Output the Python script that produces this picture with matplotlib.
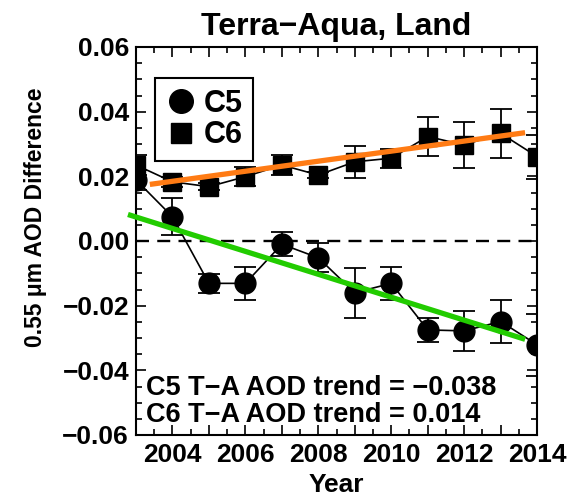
import numpy as np
import matplotlib
matplotlib.use("Agg")
import matplotlib.pyplot as plt
from matplotlib.lines import Line2D
from matplotlib.ticker import MultipleLocator, FuncFormatter

plt.rcParams['font.family'] = ['Liberation Sans', 'DejaVu Sans']
plt.rcParams['font.weight'] = 'bold'

# data
years = np.arange(2003, 2015)
c5 = [0.0189, 0.0075, -0.0131, -0.0131, -0.0010, -0.0052,
      -0.0160, -0.0131, -0.0275, -0.0278, -0.0249, -0.0321]
c5_err = [0.003, 0.0057, 0.003, 0.005, 0.0037, 0.0045,
          0.0078, 0.0052, 0.0036, 0.0062, 0.0067, 0.0095]
c6 = [0.0235, 0.0183, 0.0168, 0.0199, 0.0235, 0.0204,
      0.0245, 0.0256, 0.0323, 0.0297, 0.0333, 0.0261]
c6_err = [0.003, 0.0015, 0.001, 0.003, 0.003, 0.001,
          0.005, 0.003, 0.006, 0.007, 0.0075, 0.0068]

# fitted trend lines (end points)
trend_c5_x = [2002.78, 2013.67]
trend_c5_y = [0.0082, -0.0304]
trend_c6_x = [2003.38, 2013.67]
trend_c6_y = [0.0175, 0.0335]

fig = plt.figure(figsize=(5.69, 5.0), dpi=100)
ax = fig.add_axes([0.239, 0.13, 0.705, 0.776])

ax.axhline(0, color='black', lw=1.7, ls=(0, (5.5, 3.5)))

ax.errorbar(years, c5, yerr=c5_err, fmt='-o', color='black', ms=15,
            lw=1.2, elinewidth=1.3, capsize=8, capthick=1.3)
ax.errorbar(years, c6, yerr=c6_err, fmt='-s', color='black', ms=13,
            lw=1.2, elinewidth=1.3, capsize=8, capthick=1.3)

ax.plot(trend_c5_x, trend_c5_y, color='#22cc00', lw=3.8, clip_on=False,
        solid_capstyle='butt', zorder=5)
ax.plot(trend_c6_x, trend_c6_y, color='#ff7b14', lw=3.8,
        solid_capstyle='butt', zorder=5)

ax.set_xlim(2003, 2014)
ax.set_ylim(-0.06, 0.06)
ax.xaxis.set_major_locator(MultipleLocator(1))
ax.xaxis.set_minor_locator(MultipleLocator(0.5))
ax.xaxis.set_major_formatter(FuncFormatter(lambda v, p: f"{int(v)}" if int(round(v)) % 2 == 0 else ""))
ax.yaxis.set_major_locator(MultipleLocator(0.02))
ax.yaxis.set_minor_locator(MultipleLocator(0.005))
ax.yaxis.set_major_formatter(FuncFormatter(lambda v, p: f"{v:.2f}".replace('-', '\u2212')))
ax.tick_params(which='both', direction='in', top=True, right=True, width=1.2,
               labelsize=19)
ax.tick_params(which='major', length=7)
ax.tick_params(which='minor', length=4)
ax.tick_params(axis='x', pad=6)
ax.tick_params(axis='y', pad=5)
for s in ax.spines.values():
    s.set_linewidth(1.5)

ax.set_title('Terra\u2212Aqua, Land', fontsize=23, fontweight='bold', pad=9)
ax.set_xlabel('Year', fontsize=19, fontweight='bold', labelpad=4)
ax.set_ylabel('0.55 \u03bcm AOD Difference', fontsize=16.5, fontweight='bold')
ax.yaxis.set_label_coords(-0.222, 0.56)

ax.text(0.025, 0.103, 'C5 T\u2212A AOD trend = \u22120.038', transform=ax.transAxes,
        fontsize=19.5, fontweight='bold', va='baseline')
ax.text(0.025, 0.034, 'C6 T\u2212A AOD trend = 0.014', transform=ax.transAxes,
        fontsize=19.5, fontweight='bold', va='baseline')

handles = [Line2D([], [], marker='o', color='black', ls='none', ms=17),
           Line2D([], [], marker='s', color='black', ls='none', ms=15)]
leg = ax.legend(handles, ['C5', 'C6'], loc='upper left',
                bbox_to_anchor=(0.047, 0.92), fontsize=22, frameon=True,
                fancybox=False, edgecolor='black', framealpha=1,
                handlelength=1.0, handletextpad=0.25, labelspacing=0.05,
                borderpad=0.35, borderaxespad=0)
leg.get_frame().set_linewidth(1.5)

fig.savefig('out.png', dpi=100)
